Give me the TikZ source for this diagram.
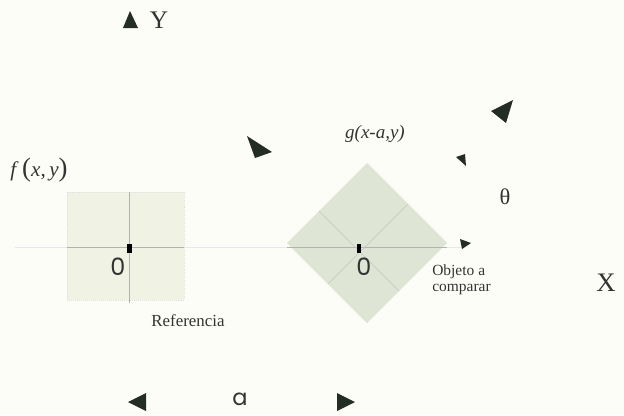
\documentclass[tikz,border=0pt]{standalone}
\usepackage{fontspec}
\setmainfont{Liberation Serif}
\newfontfamily\geofont{Poppins}

\definecolor{bgcol}{RGB}{253,253,248}
\definecolor{refcol}{RGB}{240,243,228}
\definecolor{objcol}{RGB}{223,229,212}
\definecolor{tipcol}{RGB}{36,44,38}

\tikzset{
  faint line/.style={line width=0.4pt, gray!18},
  grid line/.style={line width=0.45pt, gray!60},
  arrowtip/.style={fill=tipcol, draw=none},
  origin mark/.style={rectangle, fill=black, draw=none, inner sep=0,
                      minimum width=0.12cm, minimum height=0.22cm},
  lbl/.style={inner sep=0, text=black!80},
}

\begin{document}
\begin{tikzpicture}[x=0.025cm, y=-0.025cm]
        % 1 unit = 1 px of the 624 x 415 frame, y grows downward
        \fill[bgcol] (0,0) rectangle (624,415);
        \useasboundingbox (0,0) rectangle (624,415);

        % ---- axis Y and X labels ----
        \fill[arrowtip] (123,28) -- (130,11) -- (138,28) -- cycle;
        \node[lbl, font={\fontsize{18}{18}\selectfont}] (ylab) at (159,20) {Y};
        \node[lbl, font={\fontsize{19}{19}\selectfont}] (xlab) at (606,283) {X};

        % ---- long faint X axis ----
        \coordinate (xl) at (15,247);
        \coordinate (xr) at (462,247);
        \draw[faint line] (xl) -- (xr);

        % ---- reference square f(x,y) ----
        \fill[refcol] (67,192) rectangle (184,300);
        \draw[gray!25, densely dotted, line width=0.4pt] (67,192) rectangle (184,300);
        \coordinate (rl) at (67,247);
        \coordinate (rr) at (184,247);
        \coordinate (rt) at (129,192);
        \coordinate (rb) at (129,303);
        \draw[grid line] (rl) -- (rr);
        \draw[grid line] (rt) -- (rb);
        \node[origin mark] (oref) at (129.5,248.5) {};
        \node[lbl, font={\geofont\fontsize{17}{17}\selectfont}] (zref) at (118,267) {0};
        \node[lbl, font={\fontsize{15}{15}\selectfont}] (flab) at (39,170)
          {\textit{f}\,{\fontsize{19}{19}\selectfont(}\textit{x},\,\textit{y}{\fontsize{19}{19}\selectfont)}};
        \node[lbl, font={\fontsize{12}{12}\selectfont}] (refname) at (188,321) {Referencia};

        % ---- object to compare g(x-a,y), square turned 45 deg ----
        \fill[objcol] (367,163) -- (447,243) -- (367,323) -- (287,243) -- cycle;
        \coordinate (dl) at (287,247);
        \coordinate (dr) at (447,247);
        \draw[grid line] (dl) -- (dr);
        \coordinate (d1a) at (319,211);
        \coordinate (d1b) at (399,291);
        \coordinate (d2a) at (328,284);
        \coordinate (d2b) at (408,204);
        \draw[grid line, gray!45] (d1a) -- (d1b);
        \draw[grid line, gray!45] (d2a) -- (d2b);
        \node[origin mark] (oobj) at (359,248.5) {};
        \node[lbl, font={\geofont\fontsize{17}{17}\selectfont}] (zobj) at (364,267) {0};
        \node[lbl, font={\itshape\fontsize{13.5}{13.5}\selectfont}] (glab) at (375,134) {g(x-a,y)};
        \node[lbl, font={\fontsize{11}{11.5}\selectfont}, align=left, anchor=west] (objname)
          at (432,280) {Objeto a\\comparar};

        % ---- turned axes of the object ----
        \fill[arrowtip] (247,136) -- (255,158) -- (272,152) -- cycle;
        \fill[arrowtip] (513,100) -- (491,111) -- (506,123) -- cycle;

        % ---- angle theta ----
        \fill[arrowtip] (466,166) -- (456,157) -- (465,154) -- cycle;
        \fill[arrowtip] (471,243) -- (460,239) -- (462,249) -- cycle;
        \node[lbl, font={\fontsize{16}{16}\selectfont}] (thlab) at (505,197) {θ};

        % ---- displacement a ----
        \fill[arrowtip] (128,402) -- (146,393) -- (146,411) -- cycle;
        \fill[arrowtip] (355,402) -- (337,393) -- (337,411) -- cycle;
        \node[lbl, font={\geofont\fontsize{16}{16}\selectfont}] (alab) at (240,399) {a};
      \end{tikzpicture}
\end{document}
